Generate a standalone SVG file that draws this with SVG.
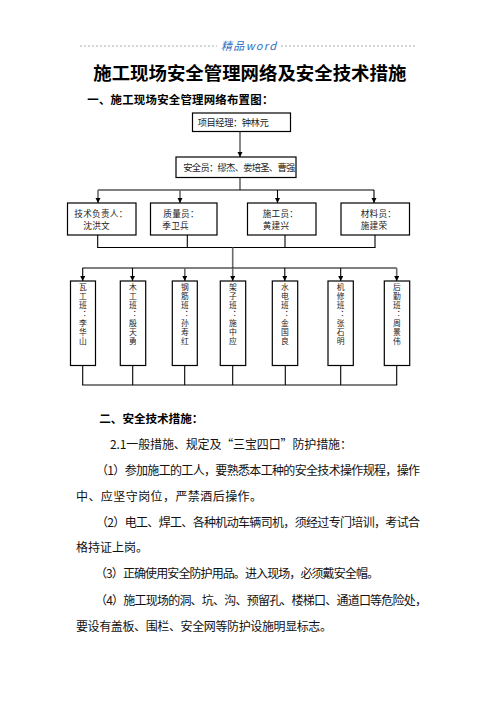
<svg xmlns="http://www.w3.org/2000/svg" width="496" height="702" viewBox="0 0 496 702">
<style>
.cjk{font-family:"Noto Sans CJK SC","Noto Sans CJK JP",sans-serif;}
.box{fill:#fff;stroke:#000;stroke-width:1.2;}
.lbl{font-size:9.3px;fill:#222;}
.lb2{font-size:8.6px;fill:#222;letter-spacing:0.3px;}
.vt{font-size:7.8px;fill:#222;writing-mode:vertical-rl;letter-spacing:1.1px;}
.ln{fill:none;stroke:#000;stroke-width:1.1;}
.gl{fill:none;stroke:#6a6a6a;stroke-width:1.6;}
.body{font-size:12px;fill:#111;}
.hd{font-weight:700;fill:#000;}
.dash{stroke:#9a9a9a;stroke-width:0.8;stroke-dasharray:2 2;}
</style>
<defs>
<marker id="ah" markerUnits="userSpaceOnUse" markerWidth="6" markerHeight="6" refX="5" refY="2.5" orient="auto">
<path d="M0,0 L5,2.5 L0,5 z" fill="#000"/>
</marker>
</defs>
<rect width="496" height="702" fill="#fff"/>

<g id="header">
<line class="dash" x1="80" y1="46" x2="217" y2="46"/>
<line class="dash" x1="281" y1="46" x2="416" y2="46"/>
<text class="cjk" x="221" y="50" font-size="11" font-style="italic" fill="#2f6fc0" textLength="55" lengthAdjust="spacing">精品word</text>
</g>

<text class="cjk hd" x="93.3" y="80" font-size="18" textLength="313" lengthAdjust="spacingAndGlyphs">施工现场安全管理网络及安全技术措施</text>
<text class="cjk hd" x="87.3" y="104.4" font-size="11.4" textLength="186" lengthAdjust="spacing">一、施工现场安全管理网络布置图：</text>

<g id="connectors">
<line class="gl" x1="240" y1="131.5" x2="240" y2="157" marker-end="url(#ah)"/>
<line class="gl" x1="240" y1="177.5" x2="240" y2="190"/>
<line class="ln" x1="98" y1="190" x2="374" y2="190"/>
<line class="gl" x1="98" y1="190" x2="98" y2="203" marker-end="url(#ah)"/>
<line class="gl" x1="180" y1="190" x2="180" y2="203" marker-end="url(#ah)"/>
<line class="ln" x1="277.5" y1="190" x2="277.5" y2="203" marker-end="url(#ah)"/>
<line class="ln" x1="374" y1="190" x2="374" y2="203" marker-end="url(#ah)"/>
<line class="ln" x1="97.7" y1="235" x2="97.7" y2="247.5"/>
<line class="ln" x1="187.3" y1="235" x2="187.3" y2="247.5"/>
<line class="ln" x1="285" y1="235" x2="285" y2="247.5"/>
<line class="ln" x1="375" y1="235" x2="375" y2="247.5"/>
<line class="ln" x1="97.2" y1="247.5" x2="375.5" y2="247.5"/>
<line class="gl" x1="232.7" y1="247.5" x2="232.7" y2="268"/>
<line class="ln" x1="82.5" y1="268" x2="396.7" y2="268"/>
<line class="ln" x1="82.7" y1="268" x2="82.7" y2="281" marker-end="url(#ah)"/>
<line class="ln" x1="132.5" y1="268" x2="132.5" y2="281" marker-end="url(#ah)"/>
<line class="gl" x1="184.8" y1="268" x2="184.8" y2="281" marker-end="url(#ah)"/>
<line class="gl" x1="232.7" y1="268" x2="232.7" y2="281" marker-end="url(#ah)"/>
<line class="ln" x1="284.8" y1="268" x2="284.8" y2="281" marker-end="url(#ah)"/>
<line class="ln" x1="340.7" y1="268" x2="340.7" y2="281" marker-end="url(#ah)"/>
<line class="gl" x1="396.7" y1="268" x2="396.7" y2="281" marker-end="url(#ah)"/>
<line class="ln" x1="82.7" y1="365.5" x2="82.7" y2="385"/>
<line class="ln" x1="132.7" y1="365.5" x2="132.7" y2="385"/>
<line class="ln" x1="184.7" y1="365.5" x2="184.7" y2="385"/>
<line class="ln" x1="232.7" y1="365.5" x2="232.7" y2="385"/>
<line class="ln" x1="285.3" y1="365.5" x2="285.3" y2="385"/>
<line class="ln" x1="340.7" y1="365.5" x2="340.7" y2="385"/>
<line class="ln" x1="396.7" y1="365.5" x2="396.7" y2="385"/>
<line class="ln" x1="82.2" y1="385" x2="397.2" y2="385"/>
</g>

<g id="manager">
<rect class="box" x="192.5" y="113" width="98" height="18.5"/>
<text class="cjk lbl" x="197.7" y="125.5" textLength="71" lengthAdjust="spacing">项目经理：钟林元</text>
</g>
<g id="safety">
<rect class="box" x="176" y="157" width="120" height="20.5"/>
<text class="cjk lbl" x="183.3" y="171" textLength="112" lengthAdjust="spacing">安全员：缪杰、娄培圣、曹强</text>
</g>

<g id="tech">
<rect class="box" x="67.5" y="203" width="68.5" height="32"/>
<text class="cjk lb2" x="74.3" y="216.5">技术负责人：</text>
<text class="cjk lb2" x="83.3" y="229.2">沈洪文</text>
</g>
<g id="quality">
<rect class="box" x="150.5" y="203" width="66.5" height="32"/>
<text class="cjk lb2" x="163.3" y="216.5">质量员：</text>
<text class="cjk lb2" x="162.3" y="229.2">季卫兵</text>
</g>
<g id="construction">
<rect class="box" x="247.5" y="203" width="68.5" height="32"/>
<text class="cjk lb2" x="262.7" y="216.5">施工员：</text>
<text class="cjk lb2" x="262.7" y="229.2">黄建兴</text>
</g>
<g id="material">
<rect class="box" x="341" y="203" width="68.5" height="32"/>
<text class="cjk lb2" x="360.7" y="216.5">材料员：</text>
<text class="cjk lb2" x="360.7" y="229.2">施建荣</text>
</g>

<g id="team1">
<rect class="box" x="70.5" y="281" width="25" height="84.5"/>
<text class="cjk vt" x="83" y="283.5">瓦工班：李华山</text>
</g>
<g id="team2">
<rect class="box" x="120.3" y="281" width="25.4" height="84.5"/>
<text class="cjk vt" x="133" y="283.5">木工班：殷天勇</text>
</g>
<g id="team3">
<rect class="box" x="172.3" y="281" width="25" height="84.5"/>
<text class="cjk vt" x="184.8" y="283.5">钢筋班：孙寿红</text>
</g>
<g id="team4">
<rect class="box" x="220.3" y="281" width="25.4" height="84.5"/>
<text class="cjk vt" x="233" y="283.5">架子班：施中应</text>
</g>
<g id="team5">
<rect class="box" x="272.3" y="281" width="25.4" height="84.5"/>
<text class="cjk vt" x="285" y="283.5">水电班：金国良</text>
</g>
<g id="team6">
<rect class="box" x="328" y="281" width="25.3" height="84.5"/>
<text class="cjk vt" x="340.7" y="283.5">机修班：张石明</text>
</g>
<g id="team7">
<rect class="box" x="384.3" y="281" width="25.4" height="84.5"/>
<text class="cjk vt" x="397" y="283.5">后勤班：周景伟</text>
</g>

<g id="section2">
<text class="cjk hd" x="99.3" y="423.3" font-size="11.6" textLength="104" lengthAdjust="spacing">二、安全技术措施：</text>
<text class="cjk body" x="110" y="448.8" textLength="242" lengthAdjust="spacing">2.1一般措施、规定及“三宝四口”防护措施：</text>
<text class="cjk body" x="96" y="474.5" textLength="324" lengthAdjust="spacing">（1）参加施工的工人，要熟悉本工种的安全技术操作规程，操作</text>
<text class="cjk body" x="76" y="501.2" textLength="186" lengthAdjust="spacing">中、应坚守岗位，严禁酒后操作。</text>
<text class="cjk body" x="96" y="527" textLength="324" lengthAdjust="spacing">（2）电工、焊工、各种机动车辆司机，须经过专门培训，考试合</text>
<text class="cjk body" x="76" y="551.5" textLength="72" lengthAdjust="spacing">格持证上岗。</text>
<text class="cjk body" x="95" y="577.8" textLength="284" lengthAdjust="spacing">（3）正确使用安全防护用品。进入现场，必须戴安全帽。</text>
<text class="cjk body" x="95" y="604.5" textLength="332" lengthAdjust="spacing">（4）施工现场的洞、坑、沟、预留孔、楼梯口、通道口等危险处，</text>
<text class="cjk body" x="76" y="631.2" textLength="256" lengthAdjust="spacing">要设有盖板、围栏、安全网等防护设施明显标志。</text>
</g>
</svg>
